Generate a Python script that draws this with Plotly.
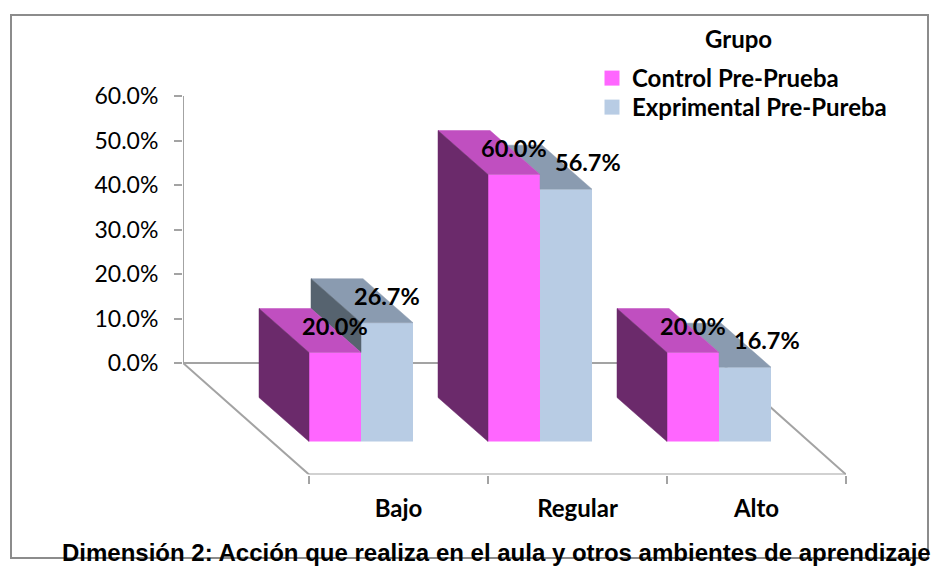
import plotly.graph_objects as go

# Chart data
categories = ["Bajo", "Regular", "Alto"]
control_pre = [20.0, 60.0, 20.0]
experimental_pre = [26.7, 56.7, 16.7]
y_ticks = [0, 10, 20, 30, 40, 50, 60]
y_tick_labels = ["0.0%", "10.0%", "20.0%", "30.0%", "40.0%", "50.0%", "60.0%"]

W, H = 932, 566
TEXT_FONT = "Lato"
TITLE_FONT = "Liberation Sans"
AXIS_GREY = "#a3a3a3"

# Plot area in pixels and the oblique projection used for the 3-D look
PLOT_L, PLOT_R, PLOT_T, PLOT_B = 183, 846, 96, 474.5
PX_PER_PCT = (363 - 96) / 60
PX_PER_CAT = 179
X_MIN = -0.5 - (309 - PLOT_L) / PX_PER_CAT
X_MAX = 2.5
Y_FLOOR = -(PLOT_B - 363) / PX_PER_PCT
BAR_BASE = -(441.5 - 363) / PX_PER_PCT
BAR_W = 52 / PX_PER_CAT
DEPTH_X = -50 / PX_PER_CAT
DEPTH_Y = 44 / PX_PER_PCT


def face(pts, color):
    xs, ys = zip(*pts)
    return go.Scatter(
        x=list(xs) + [xs[0]], y=list(ys) + [ys[0]], mode="lines", fill="toself",
        fillcolor=color, line=dict(color=color, width=0.5),
        showlegend=False, hoverinfo="skip",
    )


def top_face(x0, top, color):
    return face([(x0, top), (x0 + BAR_W, top),
                 (x0 + BAR_W + DEPTH_X, top + DEPTH_Y), (x0 + DEPTH_X, top + DEPTH_Y)], color)


fig = go.Figure()

# Front faces
for name, vals, off, color in [
    ("Control Pre-Prueba", control_pre, -0.5, "#ff66ff"),
    ("Exprimental Pre-Pureba", experimental_pre, -0.5 + BAR_W, "#b8cce4"),
]:
    fig.add_trace(go.Bar(
        x=list(range(len(categories))), y=vals, base=BAR_BASE, width=BAR_W, offset=off,
        marker=dict(color=color, line=dict(width=0)), showlegend=False, hoverinfo="skip",
    ))

# Side and top faces
for i, (p, b) in enumerate(zip(control_pre, experimental_pre)):
    x0 = i - 0.5
    xm = x0 + BAR_W
    pt, bt = BAR_BASE + p, BAR_BASE + b
    if b >= p:
        fig.add_trace(top_face(xm, bt, "#8a9bb0"))
        fig.add_trace(face([(xm, pt), (xm, bt), (xm + DEPTH_X, bt + DEPTH_Y),
                            (xm + DEPTH_X, pt + DEPTH_Y)], "#56636f"))
    else:
        # The taller neighbour hides part of this top face
        t = (bt + DEPTH_Y - pt) / DEPTH_Y
        fig.add_trace(face([(xm, pt), (xm, bt), (xm + BAR_W, bt),
                            (xm + BAR_W + DEPTH_X, bt + DEPTH_Y),
                            (xm + t * DEPTH_X, bt + DEPTH_Y)], "#8a9bb0"))
    fig.add_trace(top_face(x0, pt, "#c04fc0"))
    fig.add_trace(face([(x0, BAR_BASE), (x0, pt), (x0 + DEPTH_X, pt + DEPTH_Y),
                        (x0 + DEPTH_X, BAR_BASE + DEPTH_Y)], "#6b2a6b"))

# Legend swatches, one legend per row so the row spacing can be set
for name, color, legend_id in [("Control Pre-Prueba", "#ff66ff", "legend"),
                               ("Exprimental Pre-Pureba", "#b8cce4", "legend2")]:
    fig.add_trace(go.Scatter(
        x=[None], y=[None], mode="markers", name=name, legend=legend_id, showlegend=True,
        marker=dict(symbol="square", size=15, color=color),
    ))

# Axis lines and floor outline, kept underneath the bars
def axis_line(x0, y0, x1, y1):
    return dict(type="line", xref="x", yref="y", x0=x0, y0=y0, x1=x1, y1=y1, layer="below",
                line=dict(color=AXIS_GREY, width=2))


front_left = -0.5
back_right = X_MAX + (PLOT_L - 308) / PX_PER_CAT
shapes = [
    axis_line(X_MIN, 0, X_MIN, 60),
    axis_line(X_MIN, 0, back_right, 0),
    axis_line(X_MIN, 0, front_left, Y_FLOOR),
    axis_line(front_left, Y_FLOOR, X_MAX, Y_FLOOR),
    axis_line(X_MAX, Y_FLOOR, back_right, 0),
    dict(type="rect", xref="paper", yref="paper", x0=11 / W, x1=928 / W,
         y0=1 - 558 / H, y1=1 - 15 / H, layer="below",
         line=dict(color="#8c8c8c", width=2)),
]

# Value labels sit above each front face; shorter right-hand bars push theirs outward
annotations = []
for i, (p, b) in enumerate(zip(control_pre, experimental_pre)):
    for val, x, shift in [(p, i - 0.5 + BAR_W / 2, 0),
                          (b, i - 0.5 + 1.5 * BAR_W, 22 if b < p else 0)]:
        annotations.append(dict(
            x=x, y=BAR_BASE + val, xref="x", yref="y", text=f"<b>{val:.1f}%</b>",
            showarrow=False, xshift=shift, yshift=27, yanchor="middle",
            font=dict(family=TEXT_FONT, size=23.5, color="#000000"),
        ))
annotations.append(dict(
    x=738 / W, y=1 - 38 / H, xref="paper", yref="paper", text="<b>Grupo</b>",
    showarrow=False, xanchor="center", yanchor="middle",
    font=dict(family=TEXT_FONT, size=24, color="#000000"),
))
annotations.append(dict(
    x=496 / W, y=1 - 552 / H, xref="paper", yref="paper",
    text="<b>Dimensión 2: Acción que realiza en el aula y otros ambientes de aprendizaje</b>",
    showarrow=False, xanchor="center", yanchor="middle",
    font=dict(family=TITLE_FONT, size=24, color="#000000"),
))

legend_style = dict(
    xanchor="left", yanchor="top", itemclick=False, itemdoubleclick=False,
    bgcolor="rgba(0,0,0,0)", indentation=-5,
    font=dict(family=TEXT_FONT, size=24, weight=700, color="#000000"),
)

fig.update_layout(
    width=W, height=H, margin=dict(l=0, r=0, t=0, b=0), autosize=False,
    paper_bgcolor="#ffffff", plot_bgcolor="rgba(0,0,0,0)", barmode="overlay",
    shapes=shapes, annotations=annotations,
    legend=dict(x=597 / W, y=1 - 56 / H, **legend_style),
    legend2=dict(x=597 / W, y=1 - 85 / H, **legend_style),
    xaxis=dict(
        domain=[PLOT_L / W, PLOT_R / W], range=[X_MIN, X_MAX], showgrid=False, zeroline=False,
        automargin=False,
        tickmode="array", tickvals=list(range(len(categories))), ticktext=categories,
        ticks="", ticklabelstandoff=17,
        tickfont=dict(family=TEXT_FONT, size=24, weight=700, color="#000000"),
        minor=dict(tickmode="array", tickvals=[-0.5, 0.5, 1.5, 2.5], ticks="outside",
                   ticklen=8, tickwidth=2, tickcolor=AXIS_GREY, showgrid=False),
    ),
    yaxis=dict(
        domain=[1 - PLOT_B / H, 1 - PLOT_T / H], range=[Y_FLOOR, 60], showgrid=False,
        zeroline=False, automargin=False,
        tickmode="array", tickvals=y_ticks, ticktext=y_tick_labels,
        ticks="outside", ticklen=8, tickwidth=2, tickcolor=AXIS_GREY, ticklabelstandoff=11,
        tickfont=dict(family=TEXT_FONT, size=23, color="#000000"),
    ),
)

fig.write_html("out.html")
